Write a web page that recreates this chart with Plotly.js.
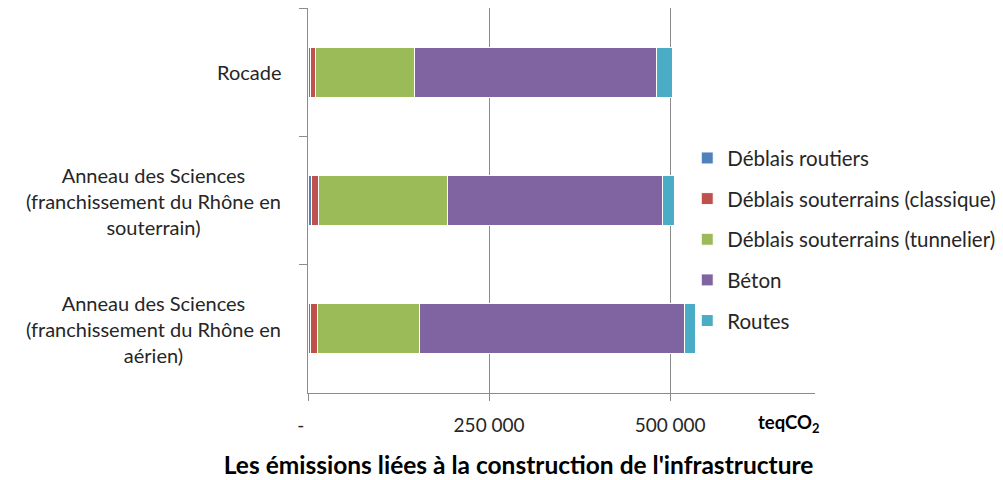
<!DOCTYPE html>
<html>
<head>
<meta charset="utf-8">
<script src="https://cdn.plot.ly/plotly-3.0.1.min.js"></script>
<style>html,body{margin:0;padding:0;background:#fff;}#chart{width:1003px;height:480px;}</style>
</head>
<body>
<div id="chart"></div>
<script>
const categories = [
  'Rocade',
  'Anneau des Sciences<br>(franchissement du Rhône en<br>souterrain)',
  'Anneau des Sciences<br>(franchissement du Rhône en<br>aérien)'
];
const seriesNames = ['Déblais routiers', 'Déblais souterrains (classique)', 'Déblais souterrains (tunnelier)', 'Béton', 'Routes'];
const deblaisRoutiers   = [2900, 4600, 3200];
const deblaisClassique  = [7900, 9300, 9300];
const deblaisTunnelier  = [136000, 178600, 141700];
const beton             = [334700, 296500, 365600];
const routes            = [21300, 17000, 15200];
const tickValues = [0, 250000, 500000];
const tickLabels = ['-\u00a0\u00a0\u00a0', '250 000', '500 000'];
const colors = ['#4F81BD', '#C0504D', '#9BBB59', '#8064A2', '#4BACC6'];

const seriesValues = [deblaisRoutiers, deblaisClassique, deblaisTunnelier, beton, routes];
const FONT = 'Lato, "Open Sans", sans-serif';

const traces = seriesValues.map((vals, i) => ({
  type: 'bar',
  orientation: 'h',
  name: seriesNames[i],
  legendgroup: 'g' + i,
  x: vals,
  y: categories,
  marker: {color: colors[i], line: {color: '#ffffff', width: 1}},
  hoverinfo: 'x+name'
}));

const annotations = categories.map(c => ({
  xref: 'paper', yref: 'y',
  x: -0.05, y: c,
  xanchor: 'right', yanchor: 'middle', align: 'center',
  text: c, showarrow: false,
  font: {family: FONT, size: 20, color: '#262626'}
}));
annotations.push({
  xref: 'paper', yref: 'paper',
  x: 0.947, y: -0.078, xanchor: 'center', yanchor: 'middle',
  text: '<b>teqCO<sub>2</sub></b>', showarrow: false,
  font: {family: FONT, size: 18.5, color: '#000000'}
});

const layout = {
  width: 1003, height: 480,
  margin: {l: 308, r: 188, t: 8, b: 87, autoexpand: false},
  paper_bgcolor: '#ffffff', plot_bgcolor: '#ffffff',
  barmode: 'stack',
  bargap: 0.61,
  showlegend: true,
  title: {
    text: "<b>Les émissions liées à la construction de l'infrastructure</b>",
    x: 0.517, xanchor: 'center', y: 0.03, yanchor: 'middle', yref: 'container',
    font: {family: FONT, size: 24.5, color: '#000000'}
  },
  legend: {
    x: 0.748, xanchor: 'left', y: 0.662, yanchor: 'top',
    traceorder: 'grouped', tracegroupgap: 11,
    bgcolor: 'rgba(0,0,0,0)',
    font: {family: FONT, size: 20.5, color: '#262626'}
  },
  xaxis: {
    range: [0, 700000],
    tickvals: tickValues, ticktext: tickLabels,
    showgrid: true, gridcolor: '#8c8c8c', gridwidth: 1,
    zeroline: false,
    showline: true, linecolor: '#8c8c8c', linewidth: 1,
    ticks: 'outside', ticklen: 7, tickcolor: '#8c8c8c',
    ticklabelstandoff: 8,
    tickfont: {family: FONT, size: 19, color: '#262626'},
    fixedrange: true
  },
  yaxis: {
    type: 'category',
    autorange: 'reversed',
    showticklabels: false,
    showgrid: false, zeroline: false,
    showline: true, linecolor: '#8c8c8c', linewidth: 1,
    ticks: 'outside', ticklen: 8, tickcolor: '#8c8c8c', tickson: 'boundaries',
    fixedrange: true
  },
  annotations: annotations
};

Plotly.newPlot('chart', traces, layout, {displayModeBar: false, staticPlot: true});
</script>
</body>
</html>
